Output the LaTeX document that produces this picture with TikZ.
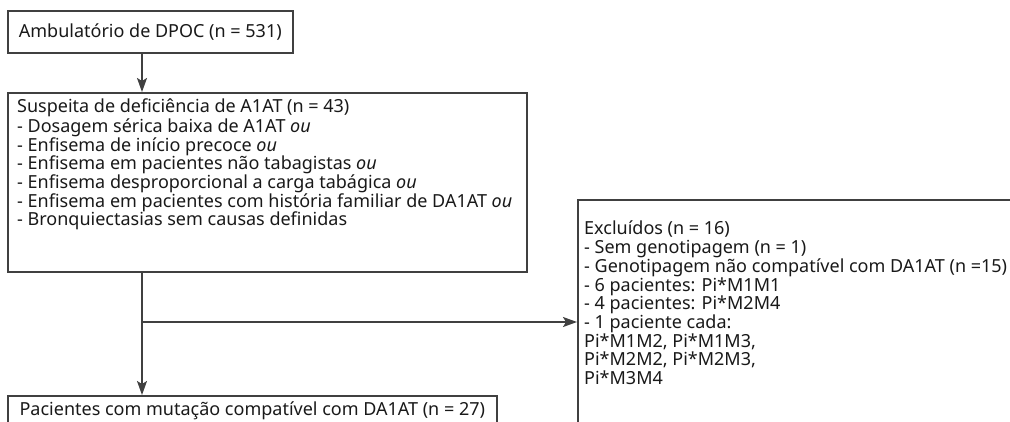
\documentclass[tikz,border=0pt]{standalone}
\usepackage{fontspec}
\setmainfont{Noto Sans}
\usetikzlibrary{
		positioning,
		arrows.meta
	}
\tikzset{
		>={Stealth[length=14pt,width=10pt,inset=3pt]}
	}

\begin{document}
\begin{tikzpicture}[x=1pt, y=-1pt, % one unit = one pixel of the layout, y running down
		frame/.style={draw=black!75, line width=1.6pt, anchor=north west, inner sep=0pt},
		txt/.style={align=left, anchor=north west, inner sep=0pt, text=black!90},
		conn/.style={draw=black!75, line width=1.6pt}
	]
		\useasboundingbox (0,0) rectangle (1010,421);
		\clip (0,0) rectangle (1010,421);
		% boxes
		\node[frame, text=black!90, minimum width=285pt, minimum height=42pt,
		  font=\fontsize{18}{18}\selectfont] (amb) at (7,10) {Ambulatório de DPOC (n = 531)};
		\node[frame, minimum width=519pt, minimum height=179pt] (susp) at (7,92) {};
		\node[txt, font=\fontsize{18}{18.1}\selectfont] (susptxt) at ([shift={(10,7)}]susp.north west) {%
		  Suspeita de deficiência de A1AT (n = 43)\\
		  - Dosagem sérica baixa de A1AT \textit{ou}\\
		  - Enfisema de início precoce \textit{ou}\\
		  - Enfisema em pacientes não tabagistas \textit{ou}\\
		  - Enfisema desproporcional a carga tabágica \textit{ou}\\
		  - Enfisema em pacientes com história familiar de DA1AT \textit{ou}\\
		  - Bronquiectasias sem causas definidas};
		\node[frame, minimum width=460pt, minimum height=260pt] (excl) at (577,199) {};
		\node[txt, font=\fontsize{18}{18.7}\selectfont] (excltxt) at ([shift={(7,22)}]excl.north west) {%
		  Excluídos (n = 16)\\
		  - Sem genotipagem (n = 1)\\
		  - Genotipagem não compatível com DA1AT (n =15)\\
		  - 6 pacientes: Pi*M1M1\\
		  - 4 pacientes: Pi*M2M4\\
		  - 1 paciente cada:\\
		  Pi*M1M2, Pi*M1M3,\\
		  Pi*M2M2, Pi*M2M3,\\
		  Pi*M3M4};
		\node[frame, text=black!90, minimum width=489pt, minimum height=30pt,
		  font=\fontsize{18}{18}\selectfont] (pac) at (7,395) {Pacientes com mutação compatível com DA1AT (n = 27)};
		% connectors
		\coordinate (trunk) at (142,0);
		\coordinate (split) at (142,322);
		\draw[conn,->] (amb.south -| trunk) -- (susp.north -| trunk);
		\draw[conn,->] (susp.south -| trunk) -- (pac.north -| trunk);
		\draw[conn,->] (split) -- (split -| excl.west);
	\end{tikzpicture}
\end{document}
